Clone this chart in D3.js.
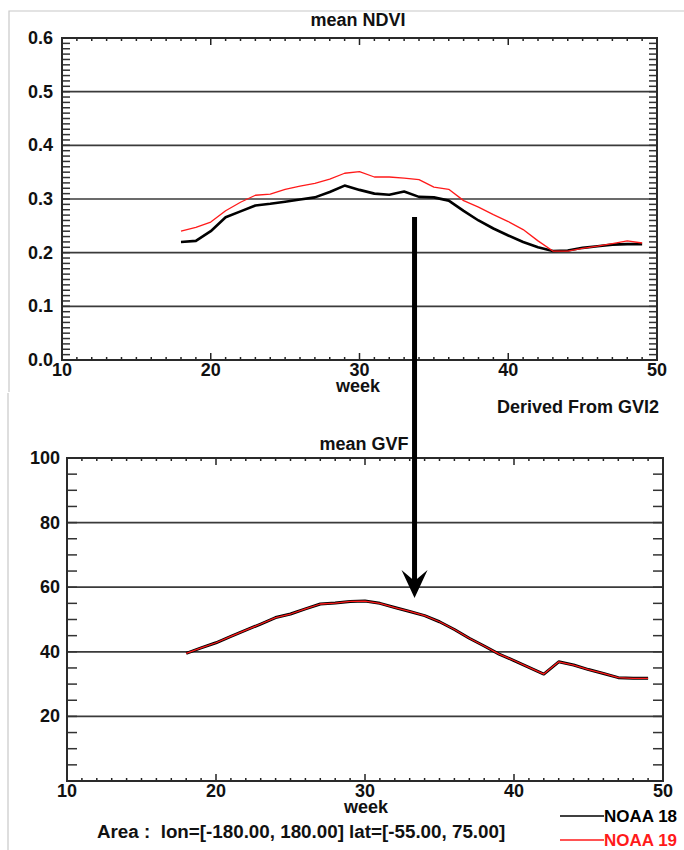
<!DOCTYPE html>
<html><head><meta charset="utf-8">
<script src="https://cdn.jsdelivr.net/npm/d3@7"></script>
<style>
html,body{margin:0;padding:0;background:#fff;}
svg text{font-family:"Liberation Sans",Arial,sans-serif;font-weight:bold;fill:#111;}
</style></head>
<body><svg id="c" width="684" height="850"></svg>
<script>
const weeks = [18,19,20,21,22,23,24,25,26,27,28,29,30,31,32,33,34,35,36,37,38,39,40,41,42,43,44,45,46,47,48,49];
const ndviNoaa18 = [0.220,0.222,0.240,0.266,0.277,0.288,0.291,0.295,0.299,0.303,0.313,0.325,0.317,0.310,0.308,0.314,0.304,0.303,0.297,0.278,0.260,0.245,0.232,0.220,0.210,0.203,0.204,0.209,0.212,0.215,0.216,0.216];
const ndviNoaa19 = [0.240,0.247,0.257,0.278,0.294,0.307,0.309,0.318,0.324,0.329,0.337,0.348,0.351,0.341,0.341,0.339,0.336,0.322,0.318,0.297,0.285,0.271,0.258,0.243,0.222,0.203,0.203,0.208,0.212,0.217,0.222,0.218];
const gvfNoaa18 = [39.5,41.2,42.8,44.8,46.7,48.6,50.6,51.7,53.3,54.8,55.1,55.6,55.7,55.0,53.7,52.5,51.2,49.3,46.9,44.2,41.8,39.3,37.3,35.2,33.1,36.9,35.9,34.5,33.3,32.0,31.8,31.8];
const gvfNoaa19 = [39.5,41.2,42.8,44.8,46.7,48.6,50.6,51.7,53.3,54.8,55.1,55.6,55.7,55.0,53.7,52.5,51.2,49.3,46.9,44.2,41.8,39.3,37.3,35.2,33.1,36.9,35.9,34.5,33.3,32.0,31.8,31.8];
const xTicks = [10,20,30,40,50];
const ndviTicks = [0.0,0.1,0.2,0.3,0.4,0.5,0.6];
const gvfTicks = [20,40,60,80,100];
const seriesNames = ["NOAA 18","NOAA 19"];
const seriesColors = ["#000000","#ff1a1a"];

const svg = d3.select("#c");
svg.append("path").attr("d","M9,392V11H684").attr("fill","none").attr("stroke","#c8c8c8").attr("stroke-width",1.2);
svg.append("path").attr("d","M8,393V850").attr("fill","none").attr("stroke","#c8c8c8").attr("stroke-width",1.2);

function panel(cfg){
  const x = d3.scaleLinear().domain([10,50]).range([cfg.left,cfg.right]);
  const y = d3.scaleLinear().domain(cfg.ydom).range([cfg.bottom,cfg.top]);
  const g = svg.append("g");
  g.selectAll(".grid").data(cfg.grid).join("line")
    .attr("x1",cfg.left).attr("x2",cfg.right).attr("y1",d=>y(d)).attr("y2",d=>y(d))
    .attr("stroke","#3a3a3a").attr("stroke-width",1.7);
  const wk = d3.range(11,50);
  g.selectAll(".xb").data(wk).join("line")
    .attr("x1",d=>x(d)).attr("x2",d=>x(d))
    .attr("y1",cfg.bottom).attr("y2",d=>cfg.bottom-(d%10===0?7:3))
    .attr("stroke","#222").attr("stroke-width",1.5);
  g.selectAll(".xt").data(wk).join("line")
    .attr("x1",d=>x(d)).attr("x2",d=>x(d))
    .attr("y1",cfg.top).attr("y2",d=>cfg.top+(d%10===0?7:3))
    .attr("stroke","#222").attr("stroke-width",1.5);
  g.selectAll(".yl").data(cfg.yminor).join("line")
    .attr("x1",cfg.left).attr("x2",cfg.left+cfg.ytl)
    .attr("y1",d=>y(d)).attr("y2",d=>y(d))
    .attr("stroke","#333").attr("stroke-width",1.5);
  g.selectAll(".yr").data(cfg.yminor).join("line")
    .attr("x1",cfg.right).attr("x2",cfg.right-cfg.ytl)
    .attr("y1",d=>y(d)).attr("y2",d=>y(d))
    .attr("stroke","#333").attr("stroke-width",1.5);
  g.append("rect").attr("x",cfg.left).attr("y",cfg.top)
    .attr("width",cfg.right-cfg.left).attr("height",cfg.bottom-cfg.top)
    .attr("fill","none").attr("stroke","#2a2a2a").attr("stroke-width",2);
  g.selectAll(".xlab").data(xTicks).join("text")
    .attr("x",d=>x(d)).attr("y",cfg.bottom+16).attr("text-anchor","middle")
    .style("font-size","18px").text(d=>d);
  g.selectAll(".ylab").data(cfg.yticks).join("text")
    .attr("x",cfg.left-cfg.ylabGap).attr("y",d=>y(d)+6).attr("text-anchor","end")
    .style("font-size","18px").text(cfg.fmt);
  g.append("text").attr("x",cfg.weekX).attr("y",cfg.bottom+32).attr("text-anchor","middle")
    .style("font-size","18px").text("week");
  g.append("text").attr("x",cfg.titleX).attr("y",cfg.titleY).attr("text-anchor","middle")
    .style("font-size","18px").text(cfg.title);
  const line = d3.line().x((d,i)=>x(weeks[i])).y(d=>y(d));
  g.append("path").datum(cfg.s1).attr("d",line).attr("fill","none")
    .attr("stroke",seriesColors[0]).attr("stroke-width",cfg.w1).attr("stroke-linejoin","round");
  g.append("path").datum(cfg.s2).attr("d",line).attr("fill","none")
    .attr("stroke",seriesColors[1]).attr("stroke-width",cfg.w2).attr("stroke-linejoin","round");
  return {x,y};
}

const ndviPanel = panel({left:62,right:657,top:38,bottom:360,ydom:[0,0.6],
  grid:[0.1,0.2,0.3,0.4,0.5], yminor:d3.range(1,60).map(i=>i/100), ytl:8,
  yticks:ndviTicks, fmt:d=>d.toFixed(1), ylabGap:9,
  weekX:358, titleX:358, titleY:26, title:"mean NDVI",
  s1:ndviNoaa18, s2:ndviNoaa19, w1:2.6, w2:1.3});
const gvfPanel = panel({left:67,right:663,top:458,bottom:781,ydom:[0,100],
  grid:[20,40,60,80], yminor:d3.range(5,100,5), ytl:10,
  yticks:gvfTicks, fmt:d=>d, ylabGap:7,
  weekX:366, titleX:364, titleY:450, title:"mean GVF",
  s1:gvfNoaa18, s2:gvfNoaa19, w1:3, w2:1.3});

svg.append("text").attr("x",659).attr("y",413).attr("text-anchor","end")
  .style("font-size","18px").text("Derived From GVI2");
svg.append("text").attr("x",97).attr("y",838).attr("xml:space","preserve")
  .style("font-size","18.8px").style("white-space","pre")
  .text("Area :  lon=[-180.00, 180.00] lat=[-55.00, 75.00]");

const lg = svg.append("g");
seriesNames.forEach((n,i)=>{
  const yy = 816 + i*24;
  lg.append("line").attr("x1",560).attr("x2",604).attr("y1",yy).attr("y2",yy)
    .attr("stroke",seriesColors[i]).attr("stroke-width",1.5);
  lg.append("text").attr("x",604).attr("y",yy+6).style("font-size","17px")
    .style("fill",seriesColors[i]).text(n);
});

const ax = ndviPanel.x(33.7);
svg.append("line").attr("x1",ax).attr("x2",ax).attr("y1",217).attr("y2",586)
  .attr("stroke","#000").attr("stroke-width",5);
svg.append("path")
  .attr("d",`M${ax},598 L${ax-13},570 L${ax},581 L${ax+13},570 Z`)
  .attr("fill","#000");
</script></body></html>
